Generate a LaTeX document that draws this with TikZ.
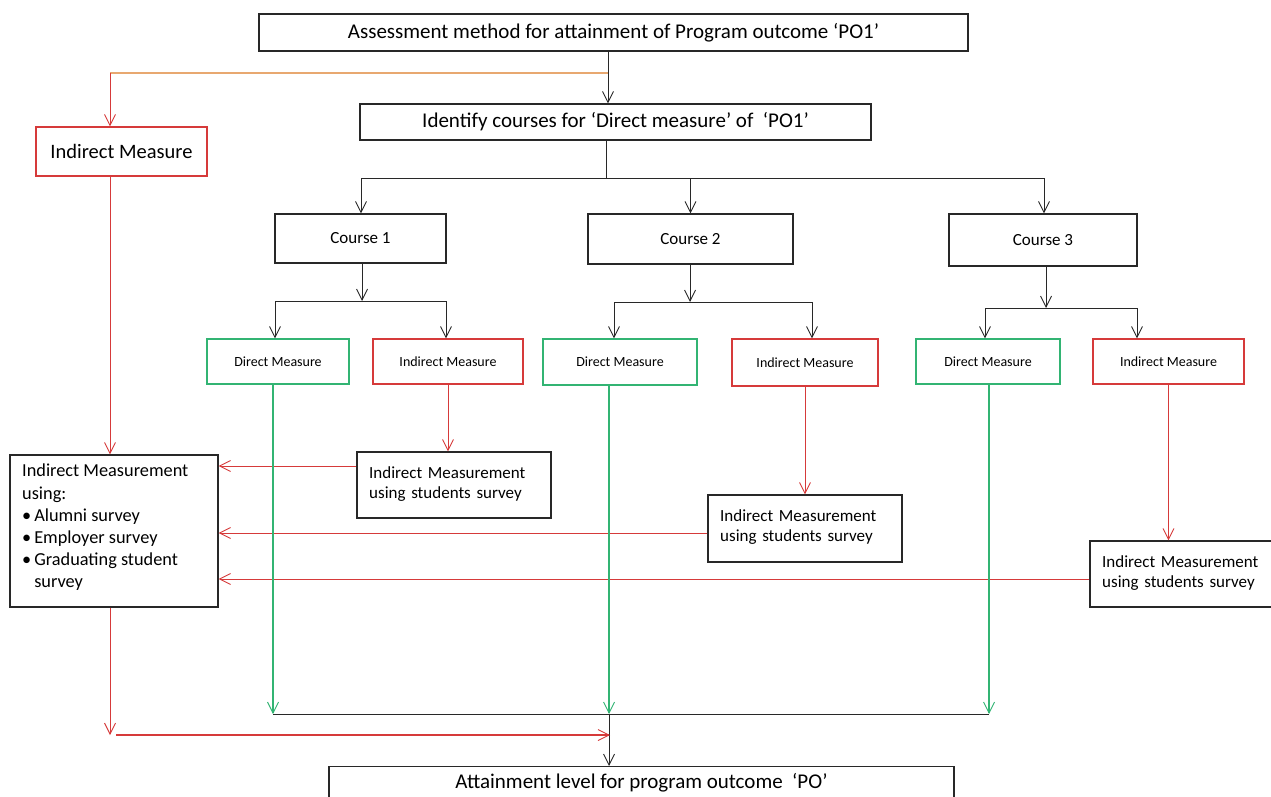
\documentclass[tikz,border=0pt]{standalone}
\usepackage{fontspec}
\setmainfont{Carlito}
\usetikzlibrary{arrows.meta}
\definecolor{rd}{RGB}{214,58,58}
\definecolor{gr}{RGB}{50,180,115}
\definecolor{og}{RGB}{232,168,112}
\definecolor{bk}{RGB}{40,40,40}
\tikzset{
  box/.style={draw=bk, line width=1.1pt, inner sep=0pt, font=\fontsize{17}{20}\selectfont},
  bigtext/.style={font=\fontsize{21}{24}\selectfont},
  redbox/.style={draw=rd, line width=1.1pt, inner sep=0pt, font=\fontsize{20.5}{24}\selectfont},
  gbox/.style={draw=gr, line width=1.1pt, inner sep=0pt, font=\fontsize{14}{16}\selectfont},
  rbox/.style={draw=rd, line width=1.1pt, inner sep=0pt, font=\fontsize{14}{16}\selectfont},
  survey/.style={draw=none, align=left, text width=182pt, inner sep=0pt, font=\fontsize{17}{20}\selectfont},
  tip/.style={-{Straight Barb[length=11pt,width=11pt,line width=0.9pt]}},
  bl/.style={draw=bk, line width=0.9pt},
  rl/.style={draw=rd, line width=0.9pt},
  gl/.style={draw=gr, line width=1.2pt},
}
\begin{document}
\begin{tikzpicture}[x=1pt,y=-1pt]
\useasboundingbox (0,0) rectangle (1271,796);
\clip (0,0) rectangle (1271,796);
\fill[white] (0,0) rectangle (1271,796);
% top boxes
\node[box, bigtext, minimum width=709pt, minimum height=37pt] (top) at (613.5,32.5) {Assessment method for attainment of Program outcome ‘PO1’};
\node[box, bigtext, minimum width=511pt, minimum height=36pt] (ident) at (615.5,122) {Identify courses for ‘Direct measure’ of\ \ ‘PO1’};
\node[redbox, minimum width=171pt, minimum height=49pt] (imL) at (121.5,151.5) {Indirect Measure};
% courses
\node[box, minimum width=171pt, minimum height=49pt] (c1) at (360.5,238.5) {Course 1};
\node[box, minimum width=205pt, minimum height=50pt] (c2) at (690.5,239) {Course 2};
\node[box, minimum width=188pt, minimum height=52pt] (c3) at (1043,240) {Course 3};
% small boxes
\node[gbox, minimum width=142pt, minimum height=45pt] (d1) at (278,361.5) {Direct Measure};
\node[rbox, minimum width=150pt, minimum height=45pt] (i1) at (448,361.5) {Indirect Measure};
\node[gbox, minimum width=154pt, minimum height=46pt] (d2) at (620,362) {Direct Measure};
\node[rbox, minimum width=146pt, minimum height=47pt] (i2) at (805,362.5) {Indirect Measure};
\node[gbox, minimum width=144pt, minimum height=45pt] (d3) at (988,361.5) {Direct Measure};
\node[rbox, minimum width=151pt, minimum height=45pt] (i3) at (1168.5,361.5) {Indirect Measure};
% survey boxes
\node[box, minimum width=194pt, minimum height=66pt] (s1) at (454,485) {};
\node[survey, anchor=north west] (s1t) at (369,466) {Indirect Measurement\\using students survey};
\node[box, minimum width=194pt, minimum height=67pt] (s2) at (805,528.5) {};
\node[survey, anchor=north west] (s2t) at (720,509) {Indirect Measurement\\using students survey};
\node[box, minimum width=190pt, minimum height=66pt] (s3) at (1185,574) {};
\node[survey, anchor=north west] (s3t) at (1102,555) {Indirect Measurement\\using students survey};
% big box
\node[box, minimum width=208pt, minimum height=152pt] (big) at (114,531) {};
\node[anchor=north west, align=left, inner sep=0pt, font=\fontsize{18.3}{22.2}\selectfont] (bigt) at (22,464) {Indirect Measurement\\using:\\\textbullet\hspace{3pt}Alumni survey\\\textbullet\hspace{3pt}Employer survey\\\textbullet\hspace{3pt}Graduating student\\\hphantom{\textbullet\hspace{3pt}}survey};
% bottom box
\node[box, minimum width=625pt, minimum height=50pt, anchor=north] (bot) at (641.5,766) {};
\node[bigtext, inner sep=0pt, anchor=base] (bott) at (641.5,788) {Attainment level for program outcome\ \ ‘PO’};
% coordinates
\coordinate (tsplit) at (608,73);
\coordinate (lsplit) at (110,73);
\coordinate (b1) at (606,178);
\coordinate (cl) at (361,178);
\coordinate (cr) at (1044,178);
\coordinate (c1s) at (362,301);
\coordinate (c1l) at (275,301);
\coordinate (c1r) at (446,301);
\coordinate (c2s) at (690,302);
\coordinate (c2l) at (614,302);
\coordinate (c2r) at (812,302);
\coordinate (c3s) at (1046,308);
\coordinate (c3l) at (985,308);
\coordinate (c3r) at (1137,308);
\coordinate (g1) at (273,714);
\coordinate (g2) at (609,714);
\coordinate (g3) at (989,714);
\coordinate (rcorner) at (110,735);
\coordinate (rstart) at (116,735);
\coordinate (rend) at (610,735);
% black connectors
\draw[bl, tip] (top.south -| tsplit) -- (ident.north -| tsplit);
\draw[bl] (ident.south -| b1) -- (b1);
\draw[bl] (cl) -- (cr);
\draw[bl, tip] (cl) -- (c1.north -| cl);
\draw[bl, tip] (b1 -| c2) -- (c2.north);
\draw[bl, tip] (cr) -- (c3.north -| cr);
\draw[bl, tip] (c1.south -| c1s) -- (c1s);
\draw[bl] (c1l) -- (c1r);
\draw[bl, tip] (c1l) -- (d1.north -| c1l);
\draw[bl, tip] (c1r) -- (i1.north -| c1r);
\draw[bl, tip] (c2.south -| c2s) -- (c2s);
\draw[bl] (c2l) -- (c2r);
\draw[bl, tip] (c2l) -- (d2.north -| c2l);
\draw[bl, tip] (c2r) -- (i2.north -| c2r);
\draw[bl, tip] (c3.south -| c3s) -- (c3s);
\draw[bl] (c3l) -- (c3r);
\draw[bl, tip] (c3l) -- (d3.north -| c3l);
\draw[bl, tip] (c3r) -- (i3.north -| c3r);
% orange / red left
\draw[draw=og, line width=1.1pt] (lsplit) -- (tsplit);
\draw[rl, tip] (lsplit) -- (imL.north -| lsplit);
\draw[rl, tip] (imL.south -| lsplit) -- (big.north -| lsplit);
% red from indirect measures
\draw[rl, tip] (i1.south) -- (s1.north -| i1.south);
\draw[rl, tip] (i2.south) -- (s2.north -| i2.south);
\draw[rl, tip] (i3.south) -- (s3.north -| i3.south);
\draw[rl, tip] (s1.west |- 0,466) -- (big.east |- 0,466);
\draw[rl, tip] (s2.west |- 0,533) -- (big.east |- 0,533);
\draw[rl, tip] (s3.west |- 0,579) -- (big.east |- 0,579);
% green
\draw[gl, tip] (d1.south -| g1) -- (g1);
\draw[gl, tip] (d2.south -| g2) -- (g2);
\draw[gl, tip] (d3.south -| g3) -- (g3);
\draw[bl] (g1) -- (g3);
\draw[bl, tip] (g2) -- (bot.north -| g2);
% red bottom
\draw[rl, tip] (big.south -| rcorner) -- (rcorner);
\draw[rl, line width=1.6pt, tip] (rstart) -- (rend);
\end{tikzpicture}
\end{document}
